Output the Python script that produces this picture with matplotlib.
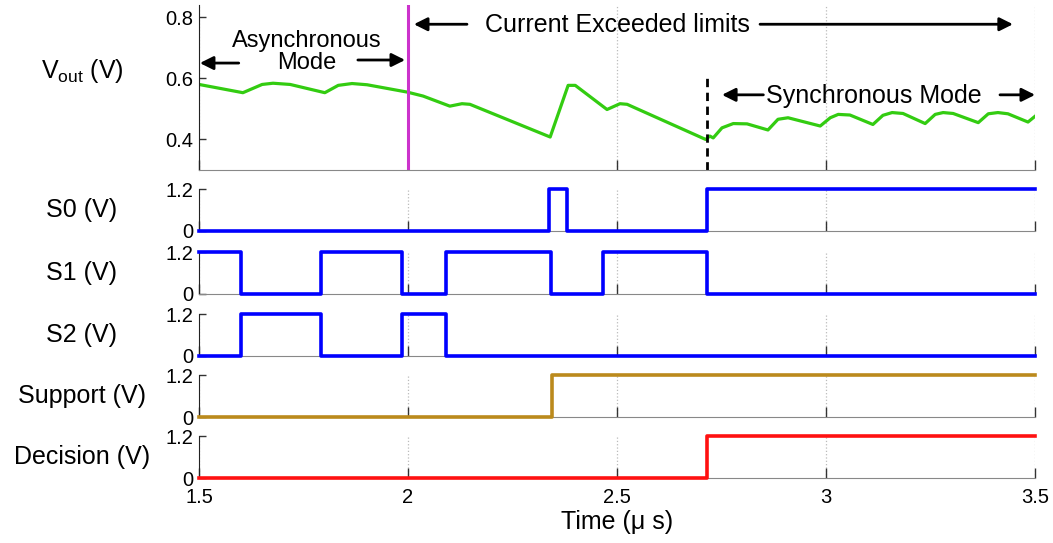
import matplotlib
matplotlib.use("Agg")
import matplotlib.pyplot as plt

plt.rcParams['font.family'] = ['Liberation Sans', 'DejaVu Sans']
plt.rcParams['mathtext.default'] = 'regular'

# Vout waveform (time in us, volts)
vout_t = [1.500, 1.605, 1.651, 1.677, 1.718, 1.801, 1.833, 1.866, 1.902, 1.998,
          2.036, 2.100, 2.129, 2.148, 2.340, 2.383, 2.400, 2.476, 2.507, 2.524,
          2.712, 2.722, 2.730, 2.751, 2.778, 2.811, 2.861, 2.885, 2.909, 2.986,
          3.010, 3.029, 3.057, 3.112, 3.136, 3.158, 3.184, 3.237, 3.261, 3.280,
          3.304, 3.364, 3.388, 3.411, 3.435, 3.483, 3.500]
vout_v = [0.580, 0.553, 0.580, 0.584, 0.580, 0.553, 0.577, 0.583, 0.579, 0.555,
          0.542, 0.509, 0.517, 0.515, 0.408, 0.577, 0.577, 0.498, 0.517, 0.515,
          0.400, 0.411, 0.405, 0.438, 0.452, 0.451, 0.431, 0.466, 0.471, 0.444,
          0.471, 0.482, 0.480, 0.449, 0.479, 0.488, 0.485, 0.452, 0.482, 0.488,
          0.485, 0.455, 0.484, 0.488, 0.484, 0.457, 0.476]

# digital signals: transition times and levels (step-post)
s0_t = [1.5, 2.337, 2.380, 2.715, 3.5]
s0_v = [0.0, 1.2, 0.0, 1.2, 1.2]
s1_t = [1.5, 1.600, 1.792, 1.986, 2.091, 2.342, 2.467, 2.715, 3.5]
s1_v = [1.2, 0.0, 1.2, 0.0, 1.2, 0.0, 1.2, 0.0, 0.0]
s2_t = [1.5, 1.600, 1.792, 1.986, 2.091, 3.5]
s2_v = [0.0, 1.2, 0.0, 1.2, 0.0, 0.0]
support_t = [1.5, 2.345, 3.5]
support_v = [0.0, 1.2, 1.2]
decision_t = [1.5, 2.715, 3.5]
decision_v = [0.0, 1.2, 1.2]

async_boundary = 2.0
sync_start = 2.715

xticks = [1.5, 2, 2.5, 3, 3.5]
xtick_labels = ['1.5', '2', '2.5', '3', '3.5']

FS = 18
TFS = 14.5

fig = plt.figure(figsize=(10.53, 5.43), dpi=100)
left, width = 0.189, 0.794


def style_axes(ax):
    ax.spines['top'].set_visible(False)
    ax.spines['right'].set_visible(False)
    ax.spines['left'].set_color('#222222')
    ax.spines['bottom'].set_color('#888888')
    ax.set_xlim(1.5, 3.5)
    ax.set_xticks(xticks)
    ax.tick_params(axis='both', direction='in', labelsize=TFS, pad=4)
    ax.tick_params(axis='x', length=7, width=1, color='#333333')
    ax.tick_params(axis='y', length=5, width=1, color='#333333')
    ax.grid(axis='x', linestyle=':', color='#bbbbbb', lw=0.9)
    ax.set_axisbelow(True)


# top panel: Vout
ax0 = fig.add_axes([left, 0.6869, width, 0.3039])
style_axes(ax0)
ax0.plot(vout_t, vout_v, color='#33cc11', lw=2.3)
ax0.axvline(async_boundary, color='#cc33cc', lw=2.2)
ax0.axvline(sync_start, ymin=0, ymax=0.56, color='k', lw=2.0, linestyle=(0, (3, 2)))
ax0.set_ylim(0.3, 0.84)
ax0.set_yticks([0.4, 0.6, 0.8])
ax0.set_yticklabels(['0.4', '0.6', '0.8'])
ax0.tick_params(axis='x', labelbottom=False)
ax0.set_ylabel(r'V$_{out}$ (V)', fontsize=FS, rotation=0, ha='center', va='center')
ax0.yaxis.set_label_coords(-0.14, 0.6)

arrow = dict(arrowstyle='-|>', lw=2.0, color='k', mutation_scale=20, shrinkA=0, shrinkB=0)
ax0.text(1.758, 0.686, 'Asynchronous\nMode', fontsize=FS - 1, ha='center', va='center',
         linespacing=1.05)
ax0.annotate('', xy=(1.502, 0.650), xytext=(1.595, 0.650), arrowprops=arrow)
ax0.annotate('', xy=(1.993, 0.660), xytext=(1.880, 0.660), arrowprops=arrow)
ax0.text(2.5, 0.775, 'Current Exceeded limits', fontsize=FS, ha='center', va='center')
ax0.annotate('', xy=(2.014, 0.777), xytext=(2.141, 0.777), arrowprops=arrow)
ax0.annotate('', xy=(3.447, 0.777), xytext=(2.842, 0.777), arrowprops=arrow)
ax0.text(3.115, 0.543, 'Synchronous Mode', fontsize=FS, ha='center', va='center')
ax0.annotate('', xy=(2.751, 0.546), xytext=(2.850, 0.546), arrowprops=arrow)
ax0.annotate('', xy=(3.5, 0.546), xytext=(3.416, 0.546), arrowprops=arrow)

# digital panels
panels = [
    (0.5746, s0_t, s0_v, '#0000ff', 'S0 (V)'),
    (0.4586, s1_t, s1_v, '#0000ff', 'S1 (V)'),
    (0.3444, s2_t, s2_v, '#0000ff', 'S2 (V)'),
    (0.2320, support_t, support_v, '#bb8a1c', 'Support (V)'),
    (0.1197, decision_t, decision_v, '#ff1111', 'Decision (V)'),
]
for i, (bottom, t, v, color, label) in enumerate(panels):
    ax = fig.add_axes([left, bottom, width, 0.0773])
    style_axes(ax)
    ax.plot(t, v, drawstyle='steps-post', color=color, lw=2.6, clip_on=False, zorder=3)
    ax.set_ylim(0, 1.2)
    ax.set_yticks([0, 1.2])
    ax.set_yticklabels(['0', '1.2'])
    ax.set_ylabel(label, fontsize=FS, rotation=0, ha='center', va='center')
    ax.yaxis.set_label_coords(-0.14, 0.5)
    if i < len(panels) - 1:
        ax.tick_params(axis='x', labelbottom=False)
    else:
        ax.set_xticklabels(xtick_labels)
        ax.tick_params(axis='x', pad=7)
        ax.set_xlabel('Time (μ s)', fontsize=FS, labelpad=2)

fig.savefig('out.png', dpi=100)
